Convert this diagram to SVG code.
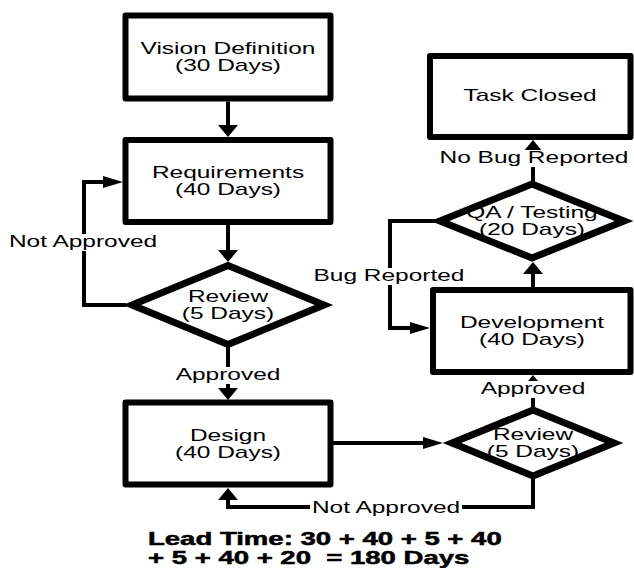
<svg xmlns="http://www.w3.org/2000/svg" width="634" height="568" viewBox="0 0 634 568">
  <style>
    .box { fill: #fff; stroke: #000; stroke-width: 6; stroke-linejoin: round; }
    .dia { fill: #fff; stroke: #000; stroke-width: 7; stroke-linejoin: miter; stroke-miterlimit: 10; }
    .wire { fill: none; stroke: #000; stroke-width: 4; stroke-linejoin: miter; }
    .head { fill: #000; stroke: none; }
    .t { font-family: "Liberation Sans", Arial, sans-serif; font-size: 16px; fill: #000; text-anchor: middle; }
    .lbg { fill: #fff; }
    .lead { font-family: "Liberation Sans", Arial, sans-serif; font-size: 18px; font-weight: bold; fill: #000; stroke: #000; stroke-width: 0.5; }
  </style>
  <defs>
    <!-- arrowheads, tip at the origin -->
    <path id="ah-down" d="M-10,-12 L10,-12 L0,0 Z"/>
    <path id="ah-up" d="M-10,12 L10,12 L0,0 Z"/>
    <path id="ah-right" d="M-20,-6 L-20,6 L0,0 Z"/>
  </defs>

  <!-- connectors -->
  <g id="connectors">
    <path class="wire" d="M228,101.5 V127"/>
    <path class="wire" d="M228,225 V252"/>
    <path class="wire" d="M126,305 H84 V182 H105"/>
    <path class="wire" d="M228,344 V390"/>
    <path class="wire" d="M330,443 H425"/>
    <path class="wire" d="M533,476 V507 H228 V499"/>
    <path class="wire" d="M533,410 V386"/>
    <path class="wire" d="M533,290 V273"/>
    <path class="wire" d="M440,221 H390 V328 H412"/>
    <path class="wire" d="M533,184 V151"/>

    <g class="head">
      <use href="#ah-down" x="228" y="137"/>
      <use href="#ah-down" x="228" y="262"/>
      <use href="#ah-right" x="123" y="182"/>
      <use href="#ah-down" x="228" y="400"/>
      <use href="#ah-right" x="443" y="443"/>
      <use href="#ah-up" x="228" y="488"/>
      <use href="#ah-up" x="533" y="375"/>
      <use href="#ah-up" x="533" y="262"/>
      <use href="#ah-right" x="430" y="328"/>
      <use href="#ah-up" x="533" y="140"/>
    </g>

    <!-- edge labels on white backing -->
    <rect class="lbg" x="7" y="234" width="152" height="17"/>
    <text class="t" transform="matrix(1.53 0 0 1 83 247)">Not Approved</text>
    <rect class="lbg" x="175" y="367" width="107" height="17"/>
    <text class="t" transform="matrix(1.53 0 0 1 228 380)">Approved</text>
    <rect class="lbg" x="480" y="381" width="107" height="17"/>
    <text class="t" transform="matrix(1.53 0 0 1 533 394)">Approved</text>
    <rect class="lbg" x="313" y="268" width="153" height="17"/>
    <text class="t" transform="matrix(1.53 0 0 1 389 281)">Bug Reported</text>
    <rect class="lbg" x="439" y="150" width="191" height="17"/>
    <text class="t" transform="matrix(1.53 0 0 1 534 162.5)">No Bug Reported</text>
    <rect class="lbg" x="310" y="500" width="152" height="17"/>
    <text class="t" transform="matrix(1.53 0 0 1 386 513)">Not Approved</text>
  </g>

  <!-- process steps -->
  <g id="vision">
    <rect class="box" x="125.5" y="15.5" width="205" height="83"/>
    <text class="t" transform="matrix(1.53 0 0 1 228 57)"><tspan x="0" y="-3">Vision Definition</tspan><tspan x="0" y="14">(30 Days)</tspan></text>
  </g>
  <g id="requirements">
    <rect class="box" x="125.5" y="140" width="205" height="82"/>
    <text class="t" transform="matrix(1.53 0 0 1 228 181)"><tspan x="0" y="-3">Requirements</tspan><tspan x="0" y="14">(40 Days)</tspan></text>
  </g>
  <g id="review-requirements">
    <polygon class="dia" points="132,305 228,265.5 324,305 228,344.5"/>
    <text class="t" transform="matrix(1.53 0 0 1 228 305)"><tspan x="0" y="-3">Review</tspan><tspan x="0" y="14">(5 Days)</tspan></text>
  </g>
  <g id="design">
    <rect class="box" x="125.5" y="402.5" width="205" height="82"/>
    <text class="t" transform="matrix(1.53 0 0 1 228 443.5)"><tspan x="0" y="-3">Design</tspan><tspan x="0" y="14">(40 Days)</tspan></text>
  </g>
  <g id="review-design">
    <polygon class="dia" points="452,443 533,410 614,443 533,476"/>
    <text class="t" transform="matrix(1.53 0 0 1 533 443)"><tspan x="0" y="-3">Review</tspan><tspan x="0" y="14">(5 Days)</tspan></text>
  </g>
  <g id="development">
    <rect class="box" x="433" y="290" width="197.5" height="82"/>
    <text class="t" transform="matrix(1.53 0 0 1 532 331)"><tspan x="0" y="-3">Development</tspan><tspan x="0" y="14">(40 Days)</tspan></text>
  </g>
  <g id="qa-testing">
    <polygon class="dia" points="440,221 532,184 624,221 532,258"/>
    <text class="t" transform="matrix(1.53 0 0 1 532 221)"><tspan x="0" y="-3">QA / Testing</tspan><tspan x="0" y="14">(20 Days)</tspan></text>
  </g>
  <g id="task-closed">
    <rect class="box" x="430" y="56" width="200.5" height="81"/>
    <text class="t" transform="matrix(1.53 0 0 1 530 101)">Task Closed</text>
  </g>

  <!-- total lead time -->
  <g id="lead-time">
    <text class="lead" xml:space="preserve" transform="matrix(1.53 0 0 1 148 545)">Lead Time: 30 + 40 + 5 + 40</text>
    <text class="lead" xml:space="preserve" transform="matrix(1.53 0 0 1 148 563.5)">+ 5 + 40 + 20  = 180 Days</text>
  </g>
</svg>
